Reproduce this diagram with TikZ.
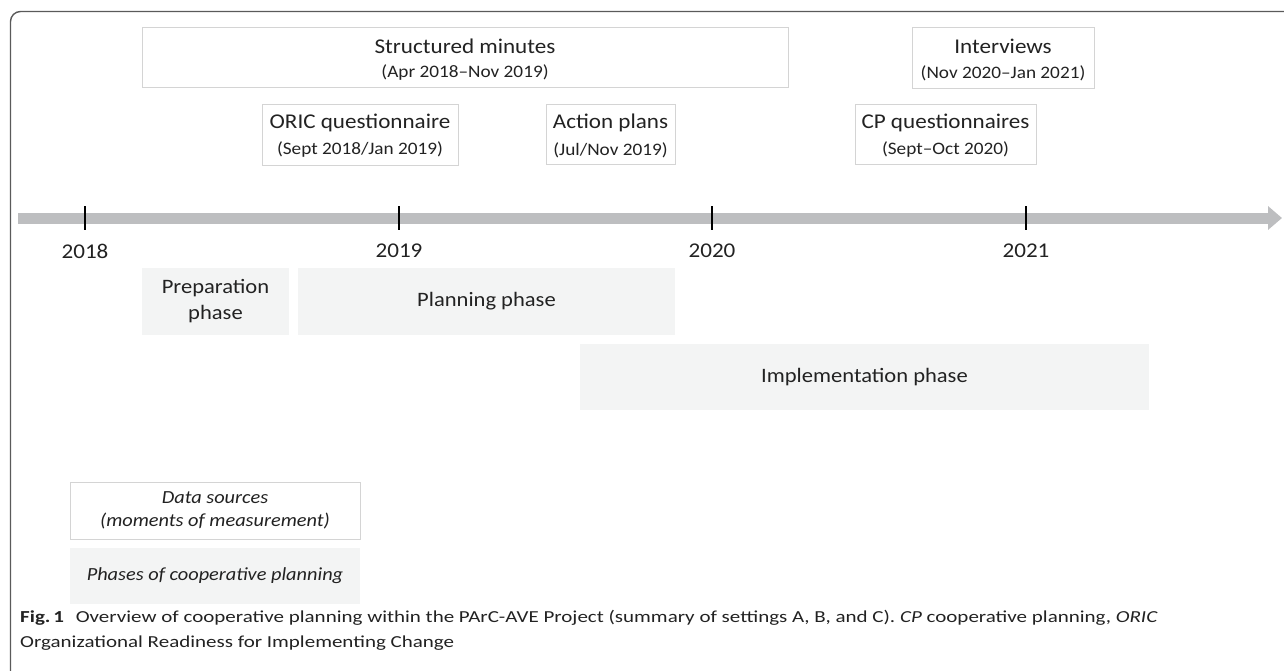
\documentclass[tikz,border=0pt]{standalone}
\usepackage{fontspec}
\setmainfont{Carlito}[FakeStretch=1.1]
\newfontfamily\capfont{Carlito}[FakeStretch=1.25]
\usetikzlibrary{arrows.meta}
\definecolor{framegray}{HTML}{5A5A5A}
\definecolor{boxline}{HTML}{D4D4D4}
\definecolor{phasefill}{HTML}{F3F4F4}
\definecolor{barcol}{HTML}{BDBEC0}
\definecolor{txt}{HTML}{222222}
\tikzset{
  srcbox/.style={draw=boxline, line width=0.9pt, fill=white, inner sep=0pt, text=txt},
  phasebox/.style={fill=phasefill, draw=none, inner sep=0pt, text=txt},
  tickmark/.style={line width=2.6pt, black},
  yearlbl/.style={text=txt, font=\fontsize{21}{23}\selectfont},
  maintxt/.style={text=txt, font=\fontsize{21}{23}\selectfont},
  subtxt/.style={text=txt, font=\fontsize{17.5}{19}\selectfont},
}
\begin{document}
\begin{tikzpicture}[x=1pt,y=-1pt]
\useasboundingbox (0,0) rectangle (1284,670);
% frame
\draw[framegray, line width=1.4pt, rounded corners=10pt] (10.5,672) -- (10.5,11.5) -- (1290,11.5);
% timeline
\coordinate (tstart) at (18,218);
\coordinate (tend) at (1282,218);
\draw[barcol, line width=11pt, -{Triangle[length=14pt,width=23pt]}] (tstart) -- (tend);
% ticks and years
\foreach \x/\y in {85/2018,399/2019,712/2020,1026/2021}{
  \coordinate (t\y) at (\x,218);
  \draw[tickmark] (\x,206) -- (\x,230);
  \node[yearlbl] (y\y) at (\x,251) {\y};
}
% data source boxes
\node[srcbox, minimum width=646pt, minimum height=60pt] (sm) at (465,57) {};
\node[maintxt] at (465,46) {Structured minutes};
\node[subtxt] at (465,73) {(Apr 2018--Nov 2019)};

\node[srcbox, minimum width=196pt, minimum height=61pt] (oric) at (360,134.5) {};
\node[maintxt] at (360,123) {ORIC questionnaire};
\node[subtxt] at (360,150) {(Sept 2018/Jan 2019)};

\node[srcbox, minimum width=129pt, minimum height=60pt] (ap) at (610.5,134) {};
\node[maintxt] at (610.5,123) {Action plans};
\node[subtxt] at (610.5,150) {(Jul/Nov 2019)};

\node[srcbox, minimum width=182pt, minimum height=61pt] (iv) at (1003,57.5) {};
\node[maintxt] at (1003,46) {Interviews};
\node[subtxt] at (1003,73) {(Nov 2020--Jan 2021)};

\node[srcbox, minimum width=181pt, minimum height=60pt] (cpq) at (945.5,134) {};
\node[maintxt] at (945.5,123) {CP questionnaires};
\node[subtxt] at (945.5,150) {(Sept--Oct 2020)};

% phases
\node[phasebox, minimum width=147pt, minimum height=67pt, align=center, font=\fontsize{20.5}{26}\selectfont] (prep) at (215.5,301.5) {Preparation\\phase};
\node[phasebox, minimum width=377pt, minimum height=67pt, font=\fontsize{20.5}{22}\selectfont] (plan) at (486.5,301.5) {Planning phase};
\node[phasebox, minimum width=569pt, minimum height=66pt, font=\fontsize{20.5}{22}\selectfont] (impl) at (864.5,377) {Implementation phase};

% legend
\node[srcbox, minimum width=290pt, minimum height=57pt, align=center, font=\itshape\fontsize{18.5}{23}\selectfont] (lgsrc) at (215,510.5) {Data sources\\(moments of measurement)};
\node[phasebox, minimum width=290pt, minimum height=56pt, font=\itshape\fontsize{18.5}{20}\selectfont] (lgph) at (215,576) {Phases of cooperative planning};

% caption
\node[anchor=west, inner sep=0pt, text=txt, font=\capfont\fontsize{16.8}{20}\selectfont] (cap1) at (20,618) {\textbf{Fig.\,1}\hspace{0.7em}Overview of cooperative planning within the PArC-AVE Project (summary of settings A, B, and C). \textit{CP} cooperative planning, \textit{ORIC}};
\node[anchor=west, inner sep=0pt, text=txt, font=\capfont\fontsize{16.8}{20}\selectfont] (cap2) at (20,643) {Organizational Readiness for Implementing Change};
\end{tikzpicture}
\end{document}
